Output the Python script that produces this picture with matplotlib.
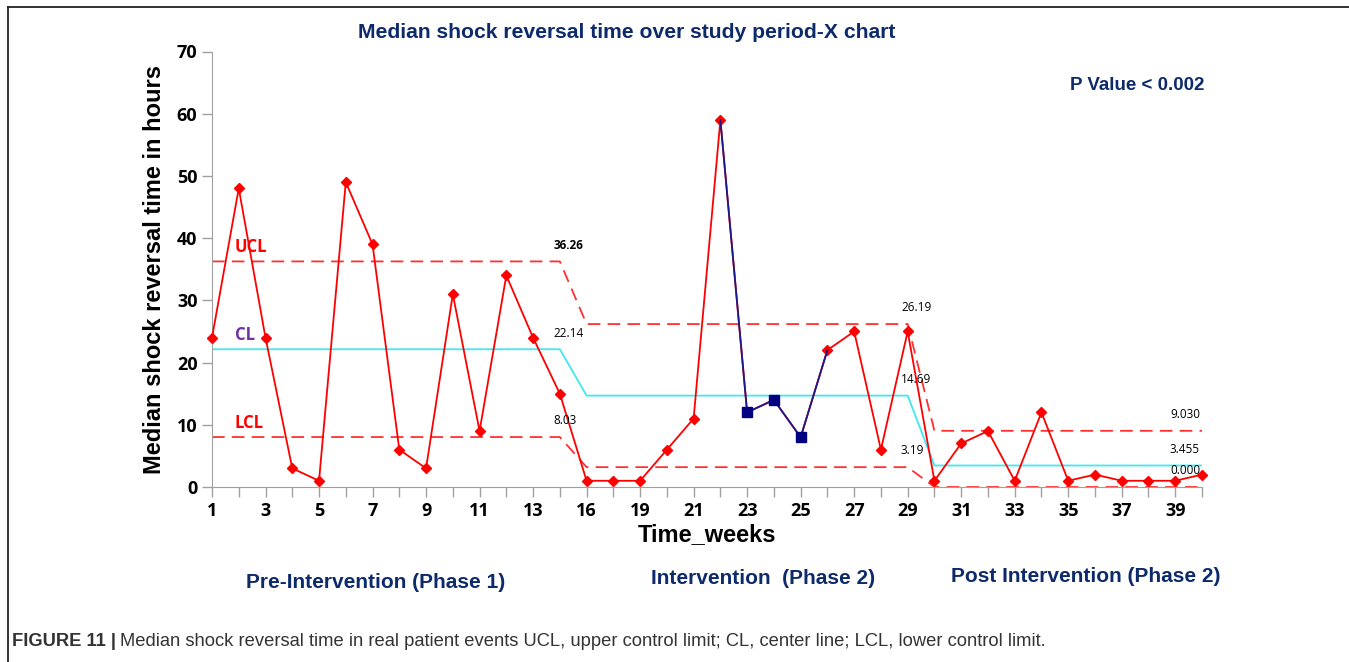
"""X chart of median shock reversal time across three study phases."""

import matplotlib

matplotlib.use("Agg")
import matplotlib.pyplot as plt  # noqa: E402
from matplotlib import font_manager  # noqa: E402
from matplotlib.lines import Line2D  # noqa: E402

# ---- data ----
weeks = list(range(1, 15)) + [16, 18] + list(range(19, 41))
hours = [24, 48, 24, 3, 1, 49, 39, 6, 3, 31, 9, 34, 24, 15,
         1, 1, 1, 6, 11, 59, 12, 14, 8, 22, 25, 6, 25,
         1, 7, 9, 1, 12, 1, 2, 1, 1, 1, 2]
flagged = [20, 21, 22]          # index of points drawn as blue squares
phase_len = [14, 13, 11]
ucl_vals = [36.26, 26.19, 9.03]
cl_vals = [22.14, 14.69, 3.455]
lcl_vals = [8.03, 3.19, 0.0]
ucl_text = ["36.26", "26.19", "9.030"]
cl_text = ["22.14", "14.69", "3.455"]
lcl_text = ["8.03", "3.19", "0.000"]
phase_names = ["Pre-Intervention (Phase 1)", "Intervention  (Phase 2)",
               "Post Intervention (Phase 2)"]

NAVY = "#0d2a6b"
RED = "#ff0000"
names = {f.name for f in font_manager.fontManager.ttflist}
NARROW = "Liberation Sans Narrow" if "Liberation Sans Narrow" in names else "Liberation Sans"
plt.rcParams["font.family"] = ["Liberation Sans", "DejaVu Sans"]


def per_point(vals):
    out = []
    for v, n in zip(vals, phase_len):
        out += [v] * n
    return out


xs = list(range(len(hours)))
ucl, cl, lcl = per_point(ucl_vals), per_point(cl_vals), per_point(lcl_vals)

fig = plt.figure(figsize=(13.49, 6.62), dpi=100)
ax = fig.add_axes([212 / 1349, 1 - 487 / 662, (1202 - 212) / 1349, (487 - 51.5) / 662])

ax.plot(xs, ucl, color="#ff3030", lw=1.3, ls=(0, (7, 4)), zorder=2)
ax.plot(xs, lcl, color="#ff3030", lw=1.3, ls=(0, (7, 4)), zorder=2, clip_on=False)
ax.plot(xs, cl, color="#40e8f0", lw=1.3, zorder=2)

# main series, red with a navy run around the flagged points
ax.plot(xs, hours, color=RED, lw=1.3, marker="D", ms=5.5, mfc=RED, mec=RED,
        zorder=3, clip_on=False)
lo, hi = flagged[0] - 1, flagged[-1] + 1
ax.plot(xs[lo:hi + 1], hours[lo:hi + 1], color="#1a1a8c", lw=1.3, zorder=4)
ax.plot([xs[i] for i in flagged], [hours[i] for i in flagged], ls="none",
        marker="s", ms=7.5, color="#000080", zorder=5)

# limit value labels at the end of each phase
ends = [phase_len[0] - 1, phase_len[0] + phase_len[1] - 1, len(hours) - 1]
for k, e in enumerate(ends):
    dx = -0.25 if k < 2 else -1.2
    for v, t in ((ucl_vals[k], ucl_text[k]), (cl_vals[k], cl_text[k]),
                 (lcl_vals[k], lcl_text[k])):
        ax.annotate(t, (e + dx, v), xytext=(0, 7), textcoords="offset points",
                    fontsize=8.5, ha="left", va="bottom", family="Open Sans",
                    fontweight="bold" if k == 0 and t == "36.26" else "normal")

ax.text(0.85, ucl_vals[0] + 0.8, "UCL", color=RED, fontsize=12, fontweight="bold",
        va="bottom", family="Open Sans")
ax.text(0.85, cl_vals[0] + 0.8, "CL", color="#7030a0", fontsize=12, fontweight="bold",
        va="bottom", family="Open Sans")
ax.text(0.85, lcl_vals[0] + 0.8, "LCL", color=RED, fontsize=12, fontweight="bold",
        va="bottom", family="Open Sans")

ax.set_xlim(0, len(hours) - 1)
ax.set_ylim(0, 70)
ax.set_yticks(range(0, 71, 10))
ax.set_xticks(xs)
ax.set_xticklabels([str(w) if i % 2 == 0 else "" for i, w in enumerate(weeks)])
for lab in ax.get_xticklabels() + ax.get_yticklabels():
    lab.set_fontweight("bold")
    lab.set_fontsize(13)
    lab.set_family("Open Sans")
ax.tick_params(axis="both", colors="#a0a0a0", labelcolor="black", length=7, width=1)
ax.tick_params(axis="x", pad=4)
for side in ("top", "right"):
    ax.spines[side].set_visible(False)
for side in ("left", "bottom"):
    ax.spines[side].set_color("#a0a0a0")

ax.set_ylabel("Median shock reversal time in hours", fontsize=17, fontweight="bold",
              labelpad=8)
ax.set_xlabel("Time_weeks", fontsize=17, fontweight="bold", family=NARROW, labelpad=2)

fig.text(627 / 1349, 1 - 32 / 662, "Median shock reversal time over study period-X chart",
         color=NAVY, fontsize=15.2, fontweight="bold", ha="center", va="center")
fig.text(1137 / 1349, 1 - 86 / 662, "P Value < 0.002", color=NAVY, fontsize=13.5,
         fontweight="bold", ha="center", va="center")
for name, (px, py) in zip(phase_names, [(376, 583), (763, 578), (1086, 576)]):
    fig.text(px / 1349, 1 - py / 662, name, color=NAVY, fontsize=15, fontweight="bold",
             ha="center", va="center", family=NARROW)

cap = fig.text(12 / 1349, 1 - 641 / 662, "FIGURE 11 |", color="#333333", fontsize=13.2,
               fontweight="bold", va="center", family=NARROW)
fig.canvas.draw()
bb = cap.get_window_extent()
fig.text((bb.x1 + 4) / 1349, 1 - 641 / 662,
         "Median shock reversal time in real patient events UCL, upper control limit; "
         "CL, center line; LCL, lower control limit.",
         color="#333333", fontsize=13.2, va="center", family=NARROW)

# frame around the chart panel
fig.add_artist(Line2D([8 / 1349, 1], [1 - 7 / 662] * 2, color="#222222", lw=1.3))
fig.add_artist(Line2D([8 / 1349] * 2, [0, 1 - 7 / 662], color="#222222", lw=1.3))

fig.savefig("out.png", dpi=100)
